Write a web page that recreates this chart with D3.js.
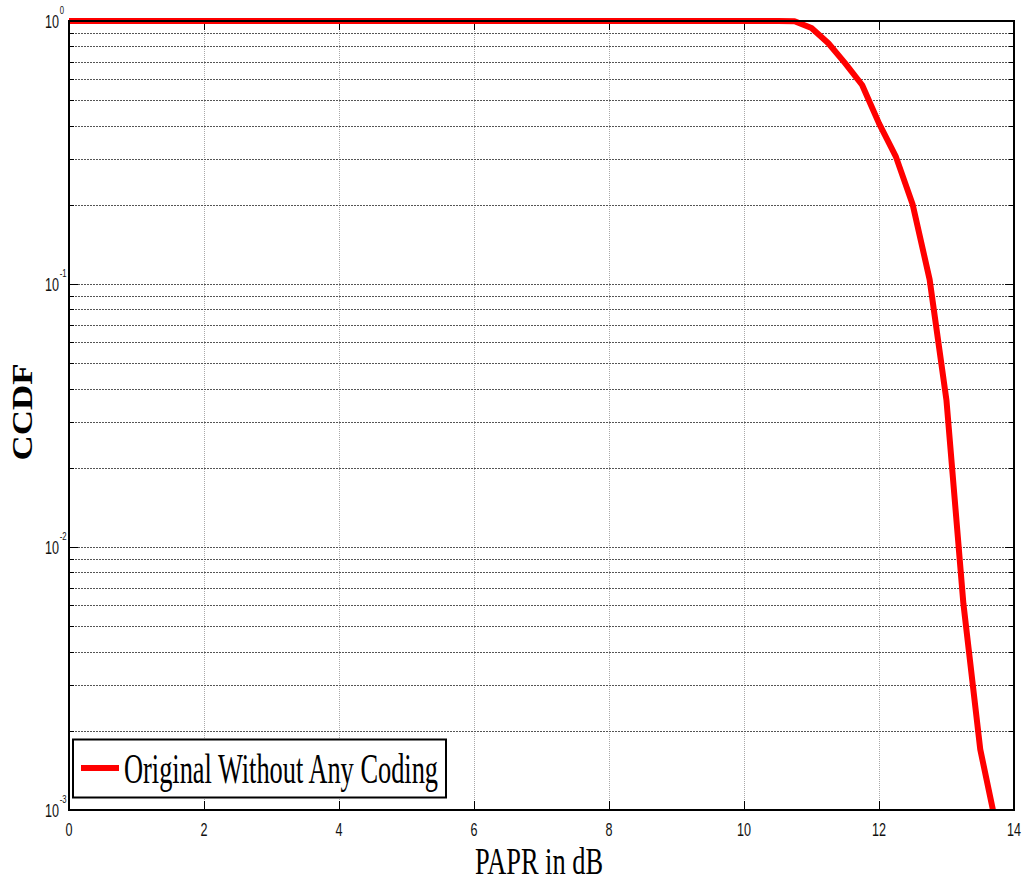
<!DOCTYPE html>
<html><head><meta charset="utf-8">
<script src="https://cdn.jsdelivr.net/npm/d3@7"></script>
<style>body{margin:0;background:#fff}svg{display:block}</style>
</head><body>
<svg id="c" width="1023" height="881"></svg>
<script>
const paprDb = [0, 10.5, 10.75, 11.0, 11.25, 11.5, 11.75, 12.0, 12.25, 12.5, 12.75, 13.0, 13.25, 13.5, 13.75];
const ccdf   = [1, 1, 0.998, 0.94, 0.823, 0.69, 0.571, 0.408, 0.305, 0.2, 0.104, 0.036, 0.0061, 0.0017, 0.00084];
const xTicks = [0, 2, 4, 6, 8, 10, 12, 14];
const yDecades = [-3, -2, -1, 0];
const seriesName = "Original Without Any Coding";
const xLabel = "PAPR in dB";
const yLabel = "CCDF";

const svg = d3.select("#c");
const L = 69, R = 1014, T = 21, B = 810;
const x = d3.scaleLinear().domain([0, 14]).range([L, R]);
const y = d3.scaleLog().domain([1e-3, 1]).range([B, T]);

const minors = [];
for (let k = -3; k < 0; k++) for (let m = 2; m <= 9; m++) minors.push(m * Math.pow(10, k));
const majors = yDecades.map(d => Math.pow(10, d));

const g = svg.append("g");
g.selectAll(".xg").data(xTicks.filter(d => d > 0 && d < 14)).enter().append("line")
  .attr("x1", d => Math.round(x(d)) + 0.5).attr("x2", d => Math.round(x(d)) + 0.5).attr("y1", T).attr("y2", B)
  .attr("stroke", "#a8a8a8").attr("stroke-width", 1).attr("stroke-dasharray", "1,1");
g.selectAll(".yg").data(minors.concat(majors.filter(d => d > 1e-3 && d < 1))).enter().append("line")
  .attr("x1", L).attr("x2", R).attr("y1", d => Math.round(y(d)) + 0.5).attr("y2", d => Math.round(y(d)) + 0.5)
  .attr("stroke", "#555").attr("stroke-width", 1).attr("stroke-dasharray", "2,1");

const tk = g.append("g").attr("stroke", "#000").attr("stroke-width", 1);
minors.forEach(v => {
  const yy = Math.round(y(v)) + 0.5;
  tk.append("line").attr("x1", L).attr("x2", L + 5).attr("y1", yy).attr("y2", yy);
  tk.append("line").attr("x1", R - 5).attr("x2", R).attr("y1", yy).attr("y2", yy);
});
majors.forEach(v => {
  const yy = Math.round(y(v)) + 0.5;
  tk.append("line").attr("x1", L).attr("x2", L + 9).attr("y1", yy).attr("y2", yy);
  tk.append("line").attr("x1", R - 9).attr("x2", R).attr("y1", yy).attr("y2", yy);
});
xTicks.forEach(v => {
  const xx = Math.round(x(v)) + 0.5;
  tk.append("line").attr("x1", xx).attr("x2", xx).attr("y1", B).attr("y2", B - 9);
  tk.append("line").attr("x1", xx).attr("x2", xx).attr("y1", T).attr("y2", T + 9);
});

svg.append("clipPath").attr("id", "pc").append("rect")
  .attr("x", L).attr("y", T - 4).attr("width", R - L).attr("height", B - T + 4);
const line = d3.line().x(d => x(d[0])).y(d => y(d[1]));
svg.append("path").datum(paprDb.map((d, i) => [d, ccdf[i]]))
  .attr("clip-path", "url(#pc)")
  .attr("d", line).attr("fill", "none").attr("stroke", "#ff0000").attr("stroke-width", 6)
  .attr("stroke-linejoin", "round");

svg.append("rect").attr("x", L).attr("y", T).attr("width", R - L).attr("height", B - T)
  .attr("fill", "none").attr("stroke", "#000").attr("stroke-width", 2);

svg.selectAll(".xl").data(xTicks).enter().append("text")
  .attr("x", d => x(d)).attr("y", 836).attr("text-anchor", "middle")
  .attr("font-family", "Liberation Sans, Arial, sans-serif").attr("font-size", 18)
  .attr("transform", d => `translate(${x(d)},0) scale(0.7,1) translate(${-x(d)},0)`)
  .attr("fill", "#111").text(d => d);

yDecades.forEach(e => {
  const yy = y(Math.pow(10, e));
  const t = svg.append("text").attr("x", 45).attr("y", yy + 7).attr("text-anchor", "start")
    .attr("font-family", "Liberation Sans, Arial, sans-serif").attr("font-size", 18).attr("fill", "#111")
    .attr("transform", `translate(45,0) scale(0.7,1) translate(-45,0)`);
  t.append("tspan").text("10");
  t.append("tspan").attr("dy", -14).attr("dx", 1).attr("font-size", 11).text(String(e));
});

svg.append("text").attr("x", 539).attr("y", 874).attr("text-anchor", "middle")
  .attr("font-family", "Liberation Serif, Times New Roman, serif").attr("font-size", 37)
  .attr("textLength", 128).attr("lengthAdjust", "spacingAndGlyphs").text(xLabel);
svg.append("text").attr("transform", "translate(32,412) rotate(-90)").attr("text-anchor", "middle")
  .attr("font-family", "Liberation Serif, Times New Roman, serif").attr("font-size", 29).attr("font-weight", "bold")
  .attr("textLength", 97).attr("lengthAdjust", "spacingAndGlyphs").text(yLabel);

const lg = svg.append("g");
lg.append("rect").attr("x", 73).attr("y", 739.5).attr("width", 373).attr("height", 58)
  .attr("fill", "#fff").attr("stroke", "#000").attr("stroke-width", 2);
lg.append("line").attr("x1", 81).attr("x2", 119).attr("y1", 768).attr("y2", 768)
  .attr("stroke", "#ff0000").attr("stroke-width", 6);
lg.append("text").attr("x", 124).attr("y", 783)
  .attr("font-family", "Liberation Serif, Times New Roman, serif").attr("font-size", 42)
  .attr("textLength", 314).attr("lengthAdjust", "spacingAndGlyphs").text(seriesName);
</script>
</body></html>
